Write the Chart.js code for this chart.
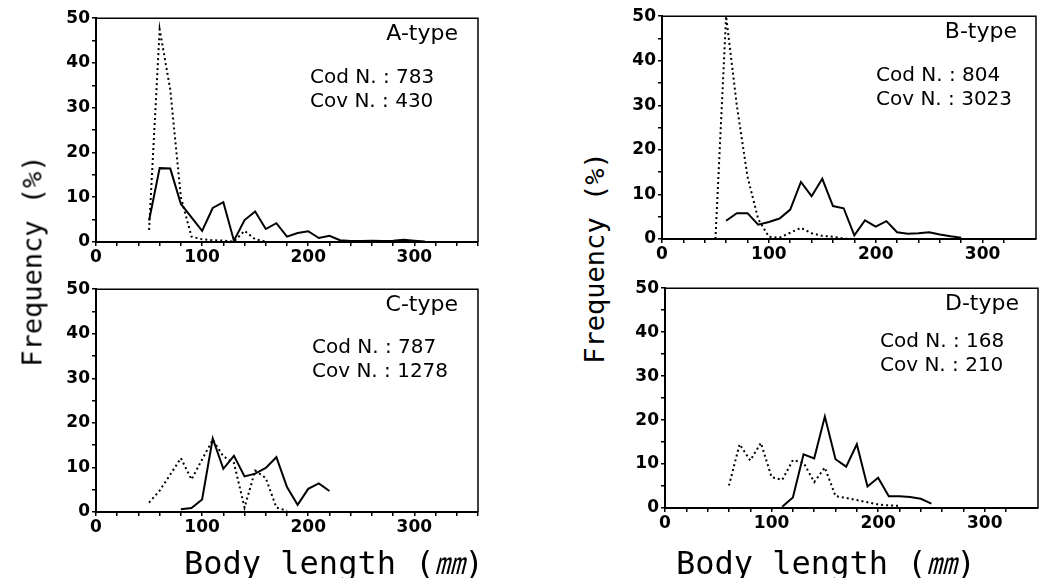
<!DOCTYPE html>
<html><head><meta charset="utf-8">
<script src="https://cdn.jsdelivr.net/npm/chart.js@4"></script>
<style>
html,body{margin:0;padding:0;background:#fff;width:1043px;height:578px;overflow:hidden;position:relative}
.pane{position:absolute}
.t{position:absolute;white-space:nowrap;color:#000;line-height:1}
.ann{font-family:"DejaVu Sans";font-size:20px}
.typ{font-family:"DejaVu Sans";font-size:22px;width:120px;text-align:right}
.ax{font-family:"DejaVu Sans Mono","Noto Sans CJK JP";font-size:32px}
.mm{font-family:"Noto Sans CJK JP";font-style:italic;font-size:30px}
.fq{font-family:"DejaVu Sans Mono";font-size:27px;transform:translate(-50%,-50%) rotate(-90deg)}
</style></head><body>
<div class="t typ" style="left:338px;top:22px">A-type</div>
<div class="t ann" style="left:310px;top:66px">Cod N. : 783</div>
<div class="t ann" style="left:310px;top:90px">Cov N. : 430</div>
<div class="t typ" style="left:897px;top:20px">B-type</div>
<div class="t ann" style="left:876px;top:64px">Cod N. : 804</div>
<div class="t ann" style="left:876px;top:88px">Cov N. : 3023</div>
<div class="t typ" style="left:338px;top:293px">C-type</div>
<div class="t ann" style="left:312px;top:336px">Cod N. : 787</div>
<div class="t ann" style="left:312px;top:360px">Cov N. : 1278</div>
<div class="t typ" style="left:899px;top:292px">D-type</div>
<div class="t ann" style="left:880px;top:330px">Cod N. : 168</div>
<div class="t ann" style="left:880px;top:354px">Cov N. : 210</div>
<div class="t ax" style="left:184px;top:546px">Body length (<span class="mm">㎜</span>)</div>
<div class="t ax" style="left:676px;top:546px">Body length (<span class="mm">㎜</span>)</div>
<div class="t fq" style="left:32px;top:261px">Frequency (%)</div>
<div class="t fq" style="left:594px;top:258px">Frequency (%)</div>
<script>
// Body length classes (mm)
const bodyLength = [50,60,70,80,90,100,110,120,130,140,150,160,170,180,190,200,210,220,230,240,250,260,270,280,290,300,310];
// Tick labels
const xLabelValues = [0,100,200,300];
const yLabelValues = [0,10,20,30,40,50];
// A-type
const codA = [4.8,16.5,16.4,8.5,5.5,2.5,7.6,8.9,0.3,4.9,6.8,2.9,4.2,1.2,2.0,2.4,0.9,1.4,0.4,0.2,0.2,0.3,0.2,0.3,0.5,0.3,0.1];
const covA = [2.7,47.5,34,10,1.2,0.6,0.4,0.3,0.1,2.5,0.6,0.1,null,null,null,null,null,null,null,null,null,null,null,null,null,null,null];
// B-type
const codB = [null,4.1,5.8,5.8,3.2,3.8,4.6,6.6,12.8,9.6,13.5,7.4,6.9,0.8,4.2,2.8,4.0,1.5,1.2,1.3,1.5,1.0,0.6,0.3,null,null,null];
const covB = [0,50,30,14,4.5,0.5,0.3,1.4,2.5,1.3,0.7,0.5,0.1,0,null,null,null,null,null,null,null,null,null,null,null,null,null];
// C-type
const codC = [null,null,null,0.6,0.9,2.8,16.5,9.7,12.6,8.0,8.6,9.9,12.3,5.6,1.6,5.2,6.4,4.7,null,null,null,null,null,null,null,null,null];
const covC = [2.1,4.8,8.4,12.1,7.3,11.8,16.2,12.5,11.0,1.0,9.3,7.6,1.0,0.3,null,null,null,null,null,null,null,null,null,null,null,null,null];
// D-type
const codD = [null,null,null,null,null,null,0.3,2.4,12.2,11.3,20.8,11.1,9.4,14.5,4.9,6.9,2.7,2.7,2.5,2.1,1.0,null,null,null,null,null,null];
const covD = [null,5.1,14.5,10.8,14.8,7.0,6.4,10.9,10.3,5.9,9.2,2.7,2.3,1.8,1.3,0.8,0.6,0.5,null,null,null,null,null,null,null,null,null];

const panels = [
  {left:46, top:6,   w:442, h:266, pr:10, xMax:360, solid:codA, dotted:covA},
  {left:612,top:4,   w:431, h:265, pr:7,  xMax:350, solid:codB, dotted:covB},
  {left:46, top:277, w:442, h:265, pr:10, xMax:360, solid:codC, dotted:covC},
  {left:615,top:276, w:428, h:262, pr:5,  xMax:350, solid:codD, dotted:covD}
];

const frame = {id:'frame', afterDatasetsDraw(c){
  const a=c.chartArea, ctx=c.ctx; ctx.save(); ctx.strokeStyle='#000'; ctx.lineWidth=1.5;
  ctx.beginPath(); ctx.moveTo(a.left,a.top); ctx.lineTo(a.right,a.top); ctx.lineTo(a.right,a.bottom); ctx.stroke(); ctx.restore();
}};

function pts(arr){ return bodyLength.map((x,i)=>({x:x,y:arr[i]})).filter(p=>p.y!==null); }

panels.forEach(p=>{
  const d=document.createElement('div'); d.className='pane';
  d.style.left=p.left+'px'; d.style.top=p.top+'px'; d.style.width=p.w+'px'; d.style.height=p.h+'px';
  const cv=document.createElement('canvas'); cv.width=p.w; cv.height=p.h; d.appendChild(cv);
  document.body.insertBefore(d, document.body.firstChild);
  const tickFont={family:'DejaVu Sans', size:17, weight:'bold'};
  const grid={display:true, drawOnChartArea:false, drawTicks:true, tickLength:4, color:'#000', lineWidth:1.5};
  new Chart(cv,{
    type:'line',
    data:{datasets:[
      {data:pts(p.solid), borderColor:'#000', borderWidth:2, pointRadius:0, tension:0, fill:false},
      {data:pts(p.dotted), borderColor:'#000', borderWidth:2, borderDash:[2,3], pointRadius:0, tension:0, fill:false}
    ]},
    options:{
      responsive:false, animation:false, devicePixelRatio:1,
      layout:{autoPadding:false, padding:{left:0,right:p.pr,top:10,bottom:0}},
      plugins:{legend:{display:false}, tooltip:{enabled:false}},
      scales:{
        x:{type:'linear', min:0, max:p.xMax,
           afterBuildTicks(s){ s.ticks = s.ticks.filter(t=>t.value%20===0); },
           afterFit(s){ s.height=30; },
           ticks:{stepSize:20, autoSkip:false, maxRotation:0, color:'#000', font:tickFont, padding:1,
                  callback:v=>xLabelValues.includes(v)?String(v):''},
           grid:grid, border:{display:true,color:'#000',width:2}},
        y:{type:'linear', min:0, max:50,
           afterFit(s){ s.width=50; },
           ticks:{stepSize:5, autoSkip:false, color:'#000', font:tickFont, padding:2,
                  callback:v=>yLabelValues.includes(v)?String(v):''},
           grid:grid, border:{display:true,color:'#000',width:2}}
      }
    },
    plugins:[frame]
  });
});
</script>
</body></html>
